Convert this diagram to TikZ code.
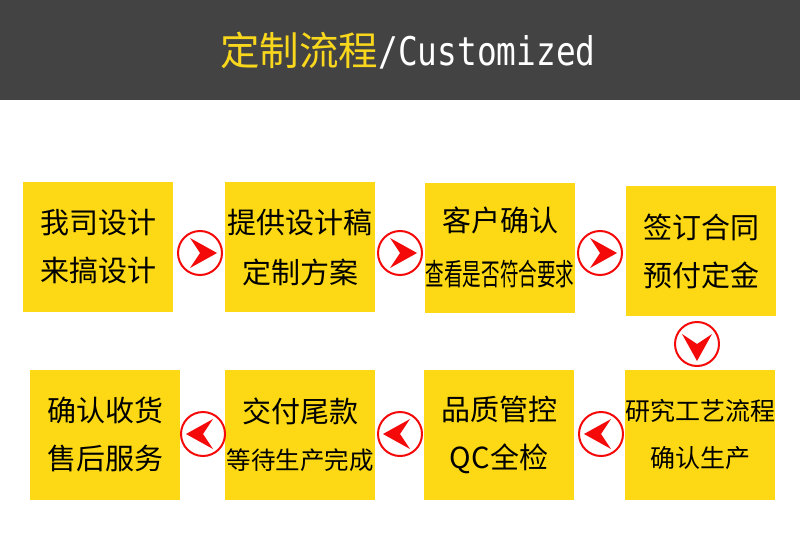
\documentclass[tikz,border=0pt]{standalone}
\usepackage{fontspec}
\setmainfont{Noto Sans CJK SC}
\newfontfamily\titlemono[FakeStretch=0.83]{DejaVu Sans Mono}
\newfontfamily\narrowcjk[FakeStretch=0.62]{Noto Sans CJK SC}
\usetikzlibrary{positioning}
\definecolor{headgray}{HTML}{434343}
\definecolor{titleyellow}{HTML}{F9D71C}
\definecolor{boxyellow}{HTML}{FCD914}
\definecolor{arrowred}{HTML}{F50A0A}
% arrow head inside a ring node
\newcommand{\ringarrow}[2]{%
  \fill[arrowred, shift={(#1.center)}, rotate=#2]
    (17,0) -- (-10,15) -- (0,0) -- (-10,-15) -- cycle;}

\begin{document}
\begin{tikzpicture}[
  x=1pt, y=1pt,
  stepbox/.style={rectangle, fill=boxyellow, minimum width=150pt, minimum height=130pt,
    inner sep=0pt, align=center, font=\fontsize{29pt}{48pt}\selectfont},
  ring/.style={circle, draw=arrowred, line width=2pt, minimum size=44pt, inner sep=0pt},
]
\useasboundingbox (0,0) rectangle (800,-559);
\fill[white] (0,0) rectangle (800,-559);

% === header ===
\fill[headgray] (0,0) rectangle (800,-100);
\node[font=\fontsize{39.5pt}{40pt}\selectfont, inner sep=0pt] (title) at (408,-51)
  {\textcolor{titleyellow}{定制流程}\textcolor{white}{\titlemono /Customized}};

% === top row ===
\node[stepbox] (s1) at (98,-247) {我司设计\\来搞设计};
\node[stepbox, font=\fontsize{29pt}{50pt}\selectfont] (s2) at (300,-247) {提供设计稿\\定制方案};
\node[stepbox, font=\fontsize{29pt}{54pt}\selectfont] (s3) at (500,-247.5)
  {客户确认\\{\narrowcjk\fontsize{30pt}{54pt}\selectfont 查看是否符合要求}};
\node[stepbox] (s4) at (701,-251) {签订合同\\预付定金};

\node[ring] (a1) at (200,-253) {};
\node[ring] (a2) at (400,-253) {};
\node[ring] (a3) at (600,-253) {};
\node[ring] (a4) at (697,-344) {};
\ringarrow{a1}{0}
\ringarrow{a2}{0}
\ringarrow{a3}{0}
\ringarrow{a4}{-90}

% === bottom row ===
\node[stepbox, font=\fontsize{25pt}{47pt}\selectfont] (s5) at (700,-434.5) {研究工艺流程\\确认生产};
\node[stepbox] (s6) at (499,-434.5) {品质管控\\QC全检};
\node[stepbox, font=\fontsize{29pt}{47pt}\selectfont] (s7) at (300,-434.5)
  {交付尾款\\{\fontsize{24.5pt}{47pt}\selectfont 等待生产完成}};
\node[stepbox] (s8) at (105,-434.5) {确认收货\\售后服务};

\node[ring] (a5) at (601,-434) {};
\node[ring] (a6) at (400,-434) {};
\node[ring] (a7) at (203,-434) {};
\ringarrow{a5}{180}
\ringarrow{a6}{180}
\ringarrow{a7}{180}
\end{tikzpicture}
\end{document}
